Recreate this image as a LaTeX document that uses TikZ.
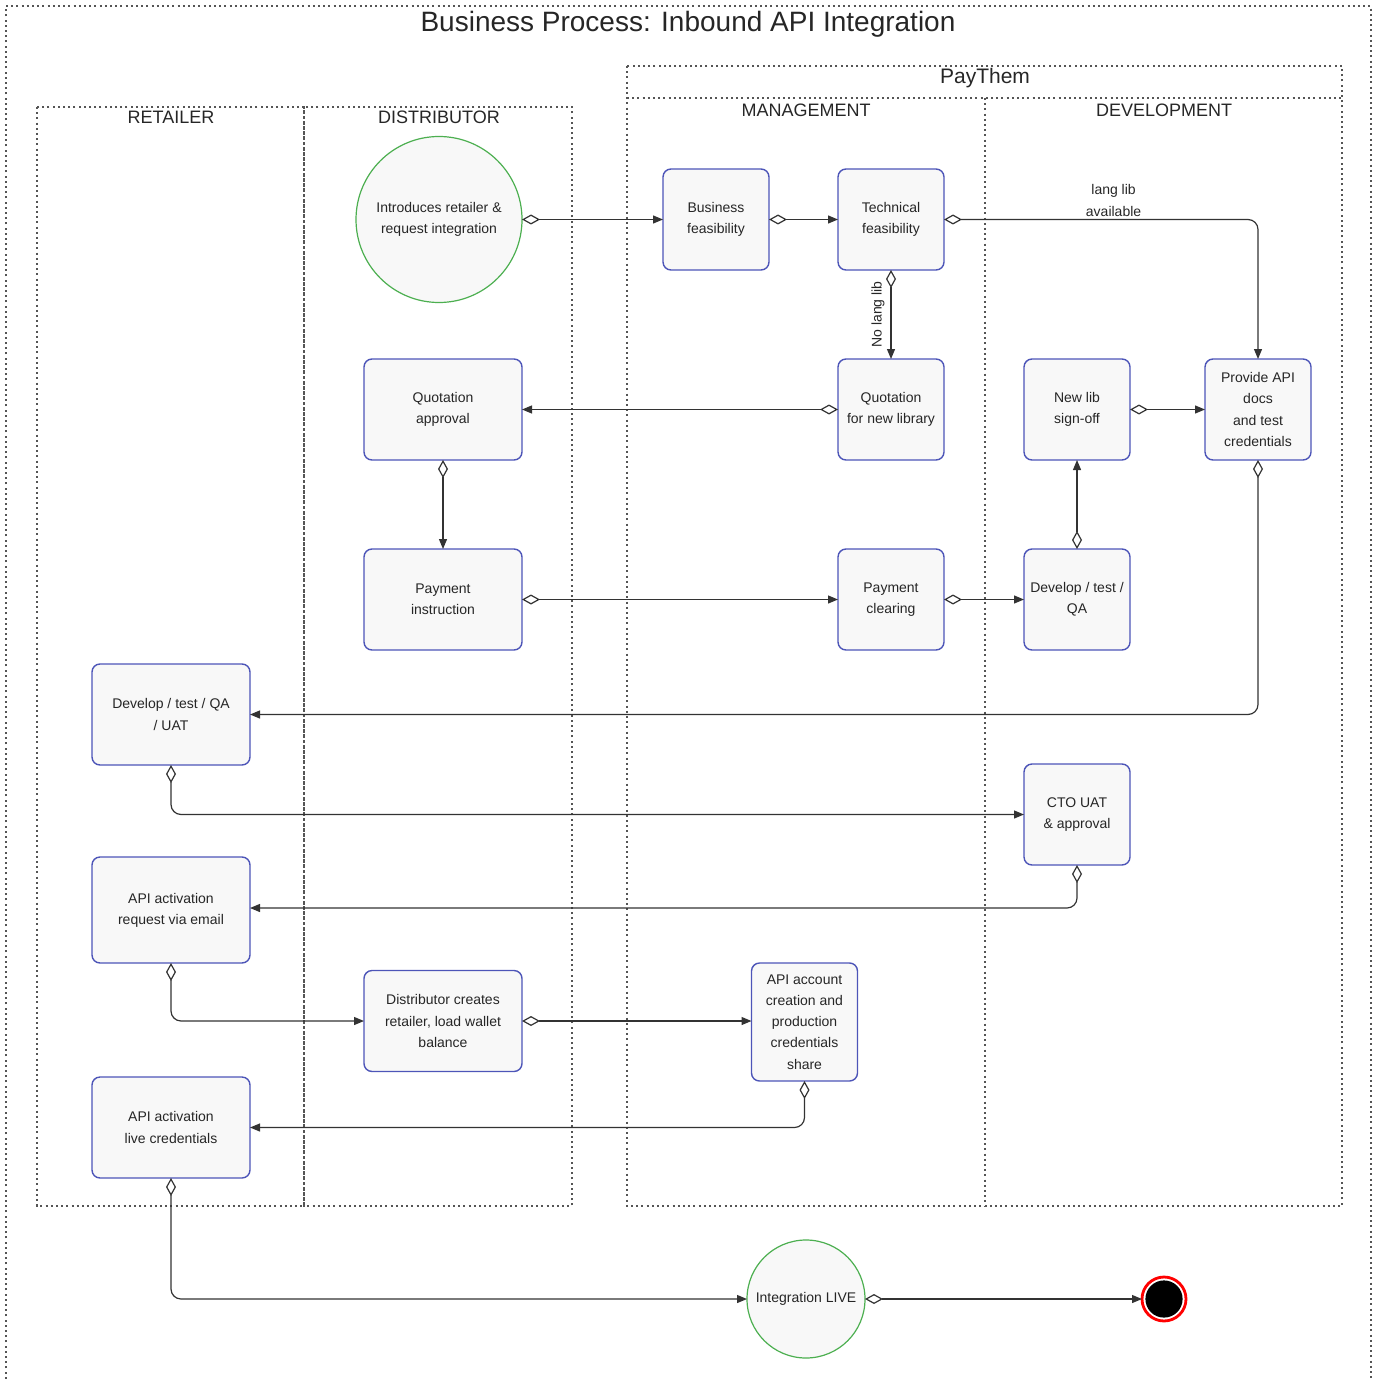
\documentclass[tikz,border=0pt]{standalone}
\usepackage{fontspec}
\setmainfont{Liberation Sans}
\usepackage{xcolor}
\usetikzlibrary{arrows.meta, positioning, calc}
\definecolor{boxblue}{HTML}{4D55B8}
\definecolor{boxfill}{HTML}{F8F8F8}
\definecolor{startgreen}{HTML}{4CAF50}
\definecolor{lanegray}{HTML}{555555}
\definecolor{linegray}{HTML}{333333}
\tikzset{
  taskbox/.style={rectangle, draw=boxblue, fill=boxfill, line width=0.7pt, rounded corners=4pt, minimum width=53pt, minimum height=50.5pt, align=center, inner sep=1pt, outer sep=0pt, text=black!85, font=\fontsize{7}{10.6}\selectfont},
  widebox/.style={taskbox, minimum width=79pt},
  eventcirc/.style={circle, draw=startgreen, fill=boxfill, line width=0.6pt, align=center, inner sep=0pt, outer sep=0pt, text=black!85, font=\fontsize{7}{10.6}\selectfont},
  endring/.style={circle, draw=red, line width=1.4pt, fill=white, minimum size=22pt, inner sep=0pt, outer sep=0pt, path picture={\fill[black] (path picture bounding box.center) circle (9.3pt);}},
  lane/.style={draw=lanegray, line width=0.6pt, dash pattern=on 1pt off 1.6pt},
  lanelabel/.style={text=black!85, font=\fontsize{9}{10}\selectfont, inner sep=0pt},
  flow/.style={{Diamond[open, length=9pt, width=5pt]}-{Triangle[length=5pt, width=4pt]}, draw=linegray, line width=0.6pt, rounded corners=5pt},
  edgelabel/.style={text=black!85, font=\fontsize{7}{11}\selectfont, align=center, inner sep=1pt},
}
\begin{document}
\begin{tikzpicture}[x=0.5pt, y=-0.5pt]
  \useasboundingbox (0,0) rectangle (1376,1380);

  % Pool and lanes
  \draw[lane] (6,1384) -- (6,6) -- (1371,6) -- (1371,1384);
  \node[font=\fontsize{14}{16}\selectfont, text=black!85, inner sep=0pt] (title) at (688,24) {Business Process: Inbound API Integration};
  \draw[lane] (37,107) rectangle (304,1206);
  \draw[lane] (304,107) rectangle (572,1206);
  \draw[lane] (627,66) rectangle (1342,1206);
  \draw[lane] (627,98) -- (1342,98);
  \draw[lane] (985,98) -- (985,1206);
  \node[lanelabel] (retlane) at (171,117) {RETAILER};
  \node[lanelabel] (distlane) at (439,117) {DISTRIBUTOR};
  \node[lanelabel, font=\fontsize{10.5}{12}\selectfont] (pool) at (985,78) {PayThem};
  \node[lanelabel] (mgmtlane) at (806,110) {MANAGEMENT};
  \node[lanelabel] (devlane) at (1164,110) {DEVELOPMENT};

  % Tasks
  \node[eventcirc, minimum size=83pt] (intro) at (439,219.5) {Introduces retailer \&\\request integration};
  \node[taskbox] (bizfeas) at (716,219.5) {Business\\feasibility};
  \node[taskbox, right=34.5pt of bizfeas] (techfeas) {Technical\\feasibility};
  \node[taskbox, below=44.5pt of techfeas] (quotnew) {Quotation\\for new library};
  \node[widebox] (quotappr) at (443,409.5) {Quotation\\approval};
  \node[taskbox] (newlib) at (1077,409.5) {New lib\\sign-off};
  \node[taskbox, right=37.5pt of newlib] (provapi) {Provide API\\docs\\and test\\credentials};
  \node[widebox, below=44.5pt of quotappr] (payinst) {Payment\\instruction};
  \node[taskbox, below=44.5pt of quotnew] (payclear) {Payment\\clearing};
  \node[taskbox, below=44.5pt of newlib] (devqa) {Develop / test /\\QA};
  \node[widebox] (retdev) at (171,714.5) {Develop / test / QA\\/ UAT};
  \node[taskbox] (ctouat) at (1077,814.5) {CTO UAT\\\& approval};
  \node[widebox, minimum height=53pt] (apireq) at (171,910) {API activation\\request via email};
  \node[widebox] (distcreate) at (443,1021) {Distributor creates\\retailer, load wallet\\balance};
  \node[taskbox, minimum height=59pt] (apiacct) at (804.5,1022) {API account\\creation and\\production\\credentials\\share};
  \node[widebox] (apilive) at (171,1127.5) {API activation\\live credentials};
  \node[eventcirc, minimum size=59pt] (golive) at (806,1299) {Integration LIVE};
  \node[endring] (finish) at (1164,1299) {};

  % Flows
  \draw[flow] (intro.east) -- (bizfeas.west);
  \draw[flow] (bizfeas) -- (techfeas);
  \draw[flow] (techfeas.east) -| (provapi.north) node[edgelabel, pos=0.27, above] {lang lib\\available};
  \draw[flow] (techfeas.south) -- (quotnew.north) node[edgelabel, midway, anchor=south, rotate=90, inner sep=3pt] {No lang lib};
  \draw[flow] (quotnew.west) -- (quotappr.east);
  \draw[flow] (quotappr.south) -- (payinst.north);
  \draw[flow] (payinst.east) -- (payclear.west);
  \draw[flow] (payclear.east) -- (devqa.west);
  \draw[flow] (devqa.north) -- (newlib.south);
  \draw[flow] (newlib.east) -- (provapi.west);
  \draw[flow] (provapi.south) |- (retdev.east);
  \draw[flow] (retdev.south) |- (ctouat.west);
  \draw[flow] (ctouat.south) |- ($(apireq.east)+(0,-2)$);
  \draw[flow] (apireq.south) |- (distcreate.west);
  \draw[flow] (distcreate.east) -- (distcreate.east -| apiacct.west);
  \draw[flow] (apiacct.south) |- (apilive.east);
  \draw[flow] (apilive.south) |- (golive.west);
  \draw[flow] (golive.east) -- (finish.west);
\end{tikzpicture}
\end{document}
